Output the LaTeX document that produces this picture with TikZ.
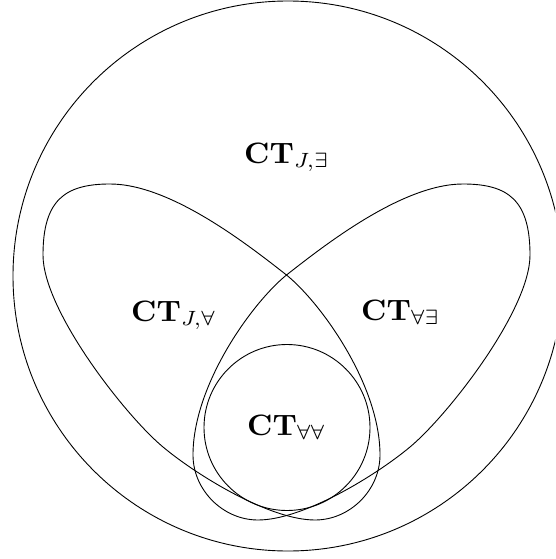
\documentclass[tikz,border=0pt]{standalone}
\usepackage{graphicx}
\newcommand{\labtxt}[1]{\scalebox{3.05}[2.95]{$#1$}}
\tikzset{
  lab/.style={anchor=base west, inner sep=0pt},
  outline/.style={line width=0.9pt}
}
\begin{document}
\begin{tikzpicture}[x=1pt,y=-1pt]
\useasboundingbox (0,0) rectangle (555,559);
\clip (0,0) rectangle (555,559);
% universe
\draw[outline] (288,276) circle[radius=275];
% left teardrop
\draw[outline] (110,184) .. controls (170,184) and (247,244) .. (286.5,275)
  .. controls (321,303) and (380,385) .. (380,455)
  .. controls (380,490) and (350,520) .. (315,520)
  .. controls (270,520) and (197.5,475.8) .. (163,447)
  .. controls (124.7,415) and (43,310) .. (43,255)
  .. controls (43,200) and (65,184) .. cycle;
% right teardrop (mirror about x = 286.5)
\draw[outline] (463,184) .. controls (403,184) and (326,244) .. (286.5,275)
  .. controls (252,303) and (193,385) .. (193,455)
  .. controls (193,490) and (223,520) .. (258,520)
  .. controls (303,520) and (375.5,475.8) .. (410,447)
  .. controls (448.3,415) and (530,310) .. (530,255)
  .. controls (530,200) and (508,184) .. cycle;
% inner circle
\draw[outline] (287,427.5) circle[radius=83];
% labels
\node[lab] (je) at (244,163) {\labtxt{\mathbf{CT}_{J,\exists}}};
\node[lab] (ja) at (131,321) {\labtxt{\mathbf{CT}_{J,\forall}}};
\node[lab] (ae) at (361,320) {\labtxt{\mathbf{CT}_{\forall\exists}}};
\node[lab] (aa) at (247,435) {\labtxt{\mathbf{CT}_{\forall\forall}}};
\end{tikzpicture}
\end{document}
